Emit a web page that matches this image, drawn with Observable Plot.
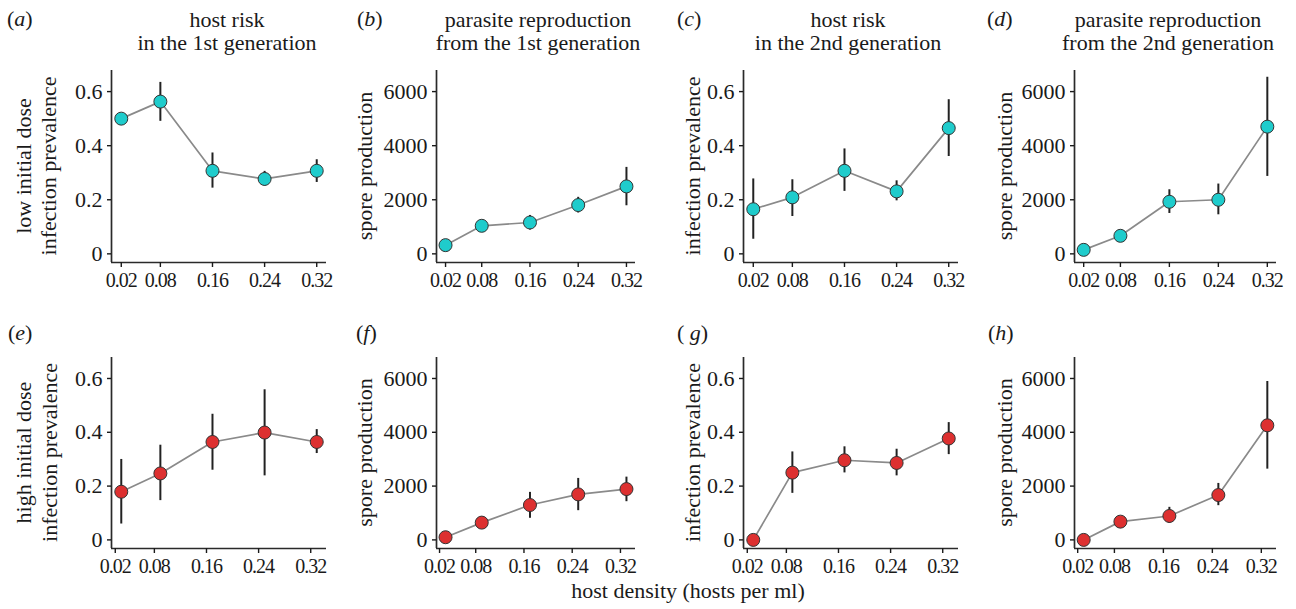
<!DOCTYPE html>
<html><head><meta charset="utf-8">
<script src="https://cdn.jsdelivr.net/npm/d3@7"></script>
<script src="https://cdn.jsdelivr.net/npm/@observablehq/plot@0.6"></script>
<style>
body{margin:0;background:#fff;}
#fig{position:relative;width:1296px;height:609px;overflow:hidden;font-family:"Liberation Serif","Times New Roman",serif;}
#fig > div.panel{position:absolute;}
#overlay{position:absolute;left:0;top:0;pointer-events:none;}
</style></head><body><div id="fig"></div>
<script>
// ---- data ----
const density = [0.02, 0.08, 0.16, 0.24, 0.32];
const densityTicks = [0.02, 0.08, 0.16, 0.24, 0.32];
const prevTicks = [0, 0.2, 0.4, 0.6];
const sporeTicks = [0, 2000, 4000, 6000];

// (a) low dose, host risk 1st generation
const lowPrev1   = [0.500, 0.563, 0.307, 0.277, 0.307];
const lowPrev1Lo = [0.495, 0.490, 0.243, 0.250, 0.264];
const lowPrev1Hi = [0.505, 0.634, 0.373, 0.305, 0.348];
// (b) low dose, spore production 1st generation
const lowSpore1   = [322, 1037, 1160, 1804, 2494];
const lowSpore1Lo = [260,  950,  880, 1510, 1778];
const lowSpore1Hi = [390, 1130, 1420, 2090, 3197];
// (c) low dose, host risk 2nd generation
const lowPrev2   = [0.165, 0.209, 0.307, 0.231, 0.465];
const lowPrev2Lo = [0.054, 0.138, 0.231, 0.196, 0.360];
const lowPrev2Hi = [0.277, 0.274, 0.388, 0.270, 0.570];
// (d) low dose, spore production 2nd generation
const lowSpore2   = [148, 667, 1926, 2000, 4704];
const lowSpore2Lo = [100, 600, 1493, 1444, 2863];
const lowSpore2Hi = [200, 740, 2370, 2581, 6530];
// (e) high dose, host risk 1st generation
const highPrev1   = [0.179, 0.247, 0.364, 0.399, 0.364];
const highPrev1Lo = [0.059, 0.146, 0.259, 0.238, 0.321];
const highPrev1Hi = [0.299, 0.352, 0.467, 0.558, 0.410];
// (f) high dose, spore production 1st generation
const highSpore1   = [99, 642, 1296, 1692, 1889];
const highSpore1Lo = [60, 580,  803, 1086, 1420];
const highSpore1Hi = [140, 700, 1766, 2285, 2333];
// (g) high dose, host risk 2nd generation
const highPrev2   = [0, 0.250, 0.296, 0.286, 0.377];
const highPrev2Lo = [0, 0.173, 0.249, 0.238, 0.317];
const highPrev2Hi = [0, 0.327, 0.346, 0.337, 0.436];
// (h) high dose, spore production 2nd generation
const highSpore2   = [0, 679, 889, 1667, 4259];
const highSpore2Lo = [0, 550, 617, 1272, 2630];
const highSpore2Hi = [0, 820, 1210, 2099, 5889];

const letters = ["a","b","c","d","e","f","g","h"];
const titles = [
  ["host risk", "in the 1st generation"],
  ["parasite reproduction", "from the 1st generation"],
  ["host risk", "in the 2nd generation"],
  ["parasite reproduction", "from the 2nd generation"]
];
const yLabels = [
  ["low initial dose", "infection prevalence"], ["spore production"], ["infection prevalence"], ["spore production"],
  ["high initial dose", "infection prevalence"], ["spore production"], ["infection prevalence"], ["spore production"]
];
const xLabel = "host density (hosts per ml)";
const lowColor = "#1fcccc";
const highColor = "#dd3030";

// ---- layout ----
const colLeft = [111, 436, 743, 1074];
const colRight = [326, 635, 958, 1276];
const rowTop = [70, 357];
const rowBottom = [262, 548];
const xDomain = [0.005, 0.335];
const prevDomain = [-0.032, 0.678];
const sporeDomain = [-320, 6780];

const series = [
  [lowPrev1, lowPrev1Lo, lowPrev1Hi], [lowSpore1, lowSpore1Lo, lowSpore1Hi],
  [lowPrev2, lowPrev2Lo, lowPrev2Hi], [lowSpore2, lowSpore2Lo, lowSpore2Hi],
  [highPrev1, highPrev1Lo, highPrev1Hi], [highSpore1, highSpore1Lo, highSpore1Hi],
  [highPrev2, highPrev2Lo, highPrev2Hi], [highSpore2, highSpore2Lo, highSpore2Hi]
];

const fig = document.getElementById("fig");
const ml = 70, mt = 10, mr = 12, mb = 40;
const ink = "#1a1a1a";

series.forEach(([m, lo, hi], i) => {
  const row = Math.floor(i / 4), col = i % 4;
  const isSpore = col % 2 === 1;
  const data = density.map((x, k) => ({x, y: m[k], lo: lo[k], hi: hi[k]}));
  const yDomain = isSpore ? sporeDomain : prevDomain;
  const width = colRight[col] - colLeft[col] + ml + mr;
  const height = rowBottom[row] - rowTop[row] + mt + mb;
  const chart = Plot.plot({
    width, height, marginLeft: ml, marginTop: mt, marginRight: mr, marginBottom: mb,
    style: {fontFamily: "'Liberation Serif', serif", fontSize: "21px", color: ink, background: "transparent", overflow: "visible"},
    x: {domain: xDomain},
    y: {domain: yDomain},
    marks: [
      Plot.ruleX([xDomain[0]], {stroke: "#2a2a2a", strokeWidth: 1.7}),
      Plot.ruleY([yDomain[0]], {stroke: "#2a2a2a", strokeWidth: 1.7}),
      Plot.axisX({ticks: densityTicks, tickFormat: d => d.toFixed(2), tickSize: 5, tickPadding: 5,
        label: null, fontSize: 20, strokeWidth: 1.4, dx: row === 1 ? -6 : 0}),
      Plot.axisY({ticks: isSpore ? sporeTicks : prevTicks,
        tickFormat: d => isSpore ? String(d) : (d === 0 ? "0" : d.toFixed(1)),
        tickSize: 4, tickPadding: 5, label: null, fontSize: 22, strokeWidth: 1.4}),
      Plot.line(data, {x: "x", y: "y", stroke: "#8a8a8a", strokeWidth: 1.7}),
      Plot.ruleX(data, {x: "x", y1: "lo", y2: "hi", stroke: "#222", strokeWidth: 2}),
      Plot.dot(data, {x: "x", y: "y", r: 6.5, fill: row === 0 ? lowColor : highColor, stroke: "#333", strokeWidth: 1})
    ]
  });
  // tighten x tick labels so neighbouring labels do not collide
  chart.querySelectorAll('g[aria-label="x-axis tick label"] text').forEach(t => {
    t.setAttribute("letter-spacing", "-1");
  });
  const div = document.createElement("div");
  div.className = "panel";
  div.style.left = (colLeft[col] - ml) + "px";
  div.style.top = (rowTop[row] - mt) + "px";
  div.appendChild(chart);
  fig.appendChild(div);
});

// ---- text overlay ----
const svg = d3.select("#fig").append("svg").attr("id", "overlay")
  .attr("width", 1296).attr("height", 609)
  .style("font-family", "'Liberation Serif', serif").style("fill", ink);

const letterX = [[7, 357, 677, 987], [8, 356, 677, 988]];
const letterY = [26, 340];
letters.forEach((l, i) => {
  const row = Math.floor(i / 4), col = i % 4;
  const t = svg.append("text").attr("x", letterX[row][col]).attr("y", letterY[row]).attr("font-size", 22);
  t.append("tspan").text(l === "g" ? "( " : "(");
  t.append("tspan").attr("font-style", "italic").text(l);
  t.append("tspan").text(")");
});

const titleCx = [227, 538, 848, 1168];
titles.forEach((lines, col) => {
  lines.forEach((s, j) => {
    svg.append("text").attr("x", titleCx[col]).attr("y", 27 + j * 23)
      .attr("text-anchor", "middle").attr("font-size", 22).text(s);
  });
});

const yLabelCx = [[[23, 48], [364], [692], [1004]], [[23, 49], [364], [692], [1004]]];
yLabels.forEach((lines, i) => {
  const row = Math.floor(i / 4), col = i % 4;
  const cy = (rowTop[row] + rowBottom[row]) / 2;
  lines.forEach((s, j) => {
    svg.append("text")
      .attr("transform", `translate(${yLabelCx[row][col][j]},${cy}) rotate(-90)`)
      .attr("dy", "0.35em").attr("text-anchor", "middle").attr("font-size", 22).text(s);
  });
});

svg.append("text").attr("x", 688).attr("y", 598).attr("text-anchor", "middle")
  .attr("font-size", 22).text(xLabel);
</script>
</body></html>
